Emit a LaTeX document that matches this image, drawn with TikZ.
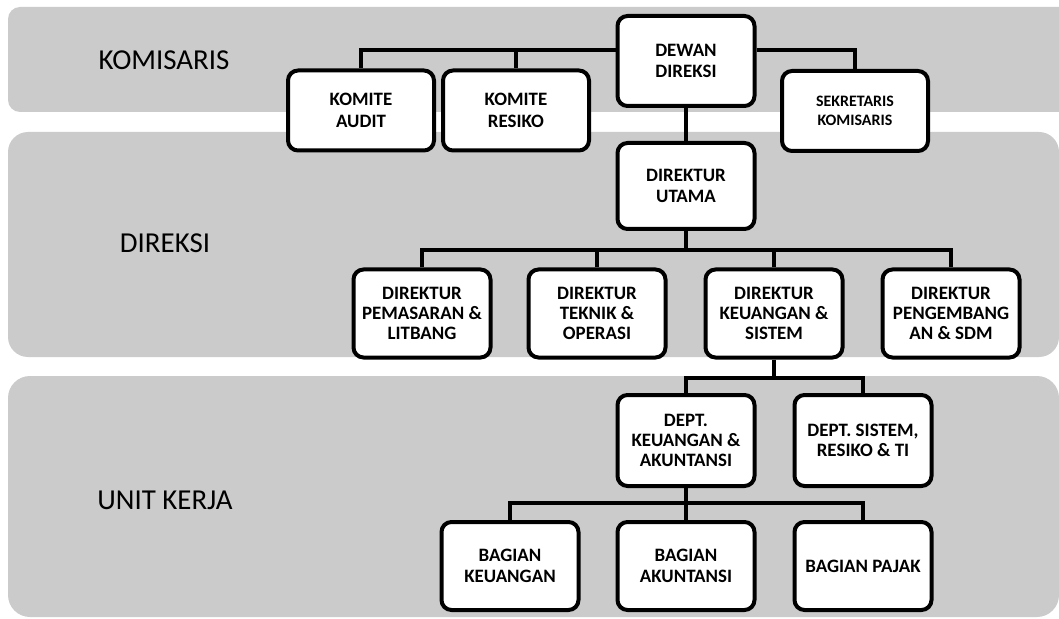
\documentclass[tikz,border=0pt]{standalone}
\usepackage{fontspec}
\setmainfont{Carlito}
\usepackage{xcolor}
\usepackage{tikz}
\definecolor{bandgray}{RGB}{203, 203, 203}

\begin{document}
\begin{tikzpicture}[x=1bp, y=-1bp,
    band/.style={fill=bandgray},
    jabatan/.style={rectangle, rounded corners=10bp, draw=black, fill=white, line width=4bp,
        minimum width=137bp, minimum height=88bp, inner sep=2bp, align=center,
        font=\bfseries\fontsize{19}{20.5}\selectfont},
    komite/.style={jabatan, minimum width=146bp, minimum height=80bp},
    link/.style={line width=4bp},
    tier/.style={anchor=base, font=\fontsize{29}{34}\selectfont}]
    \useasboundingbox (0,0) rectangle (1059,619);

    % latar tingkatan
    \begin{scope}
        \clip (0,0) rectangle (1059,619);
        \fill[band, rounded corners=12bp] (8,7) rectangle (1090,112);
        \fill[band, rounded corners=20bp] (8,132) rectangle (1059,357);
        \fill[band, rounded corners=22bp] (8,376) rectangle (1059,617);
    \end{scope}
    \node[tier] (tkom) at (164,70) {KOMISARIS};
    \node[tier] (tdir) at (165,253) {DIREKSI};
    \node[tier] (tunit) at (165,509) {UNIT KERJA};

    % komisaris
    \node[jabatan, minimum height=90bp] (dewan) at (686,61) {DEWAN\\DIREKSI};
    \node[komite, font=\bfseries\fontsize{19}{22.5}\selectfont] (audit) at (361,110.5) {KOMITE\\AUDIT};
    \node[komite, font=\bfseries\fontsize{19}{22.5}\selectfont] (resiko) at (516,110.5) {KOMITE\\RESIKO};
    \node[komite, font=\bfseries\fontsize{16}{19}\selectfont] (sekretaris) at (855,111) {SEKRETARIS\\KOMISARIS};
    \coordinate (buskom) at ([yshift=11bp]dewan.west);
    \draw[link] (buskom) -| (audit.north);
    \draw[link] (resiko.north) -- (resiko.north |- buskom);
    \draw[link] ([yshift=11bp]dewan.east) -| (sekretaris.north);

    % direksi
    \node[jabatan, minimum height=86bp] (utama) at (686,186) {DIREKTUR\\UTAMA};
    \draw[link] (dewan) -- (utama);
    \node[jabatan] (pemasaran) at (422,313.5) {DIREKTUR\\PEMASARAN \&\\LITBANG};
    \node[jabatan] (teknik) at (597,313.5) {DIREKTUR\\TEKNIK \&\\OPERASI};
    \node[jabatan] (keuangan) at (774,313.5) {DIREKTUR\\KEUANGAN \&\\SISTEM};
    \node[jabatan] (pengembangan) at (951,313.5) {DIREKTUR\\PENGEMBANG\\AN \& SDM};
    \coordinate (busdir) at (686,250);
    \draw[link] (utama) -- (busdir);
    \draw[link] (pemasaran.north) |- (busdir) -| (pengembangan.north);
    \draw[link] (teknik.north) -- (teknik.north |- busdir);
    \draw[link] (keuangan.north) -- (keuangan.north |- busdir);

    % unit kerja
    \node[jabatan, minimum height=91bp] (deptkeu) at (686,440.5) {DEPT.\\KEUANGAN \&\\AKUNTANSI};
    \node[jabatan, minimum height=91bp] (deptsis) at (863,440.5) {DEPT. SISTEM,\\RESIKO \& TI};
    \coordinate (busdept) at (774,378);
    \draw[link] (keuangan) -- (busdept);
    \draw[link] (deptkeu.north) |- (busdept) -| (deptsis.north);

    \node[jabatan] (bagkeu) at (510,566) {BAGIAN\\KEUANGAN};
    \node[jabatan] (bagaku) at (686,566) {BAGIAN\\AKUNTANSI};
    \node[jabatan] (bagpajak) at (863,566) {BAGIAN PAJAK};
    \coordinate (busbag) at (686,503);
    \draw[link] (deptkeu) -- (busbag);
    \draw[link] (bagkeu.north) |- (busbag) -| (bagpajak.north);
    \draw[link] (bagaku) -- (busbag);
\end{tikzpicture}
\end{document}
